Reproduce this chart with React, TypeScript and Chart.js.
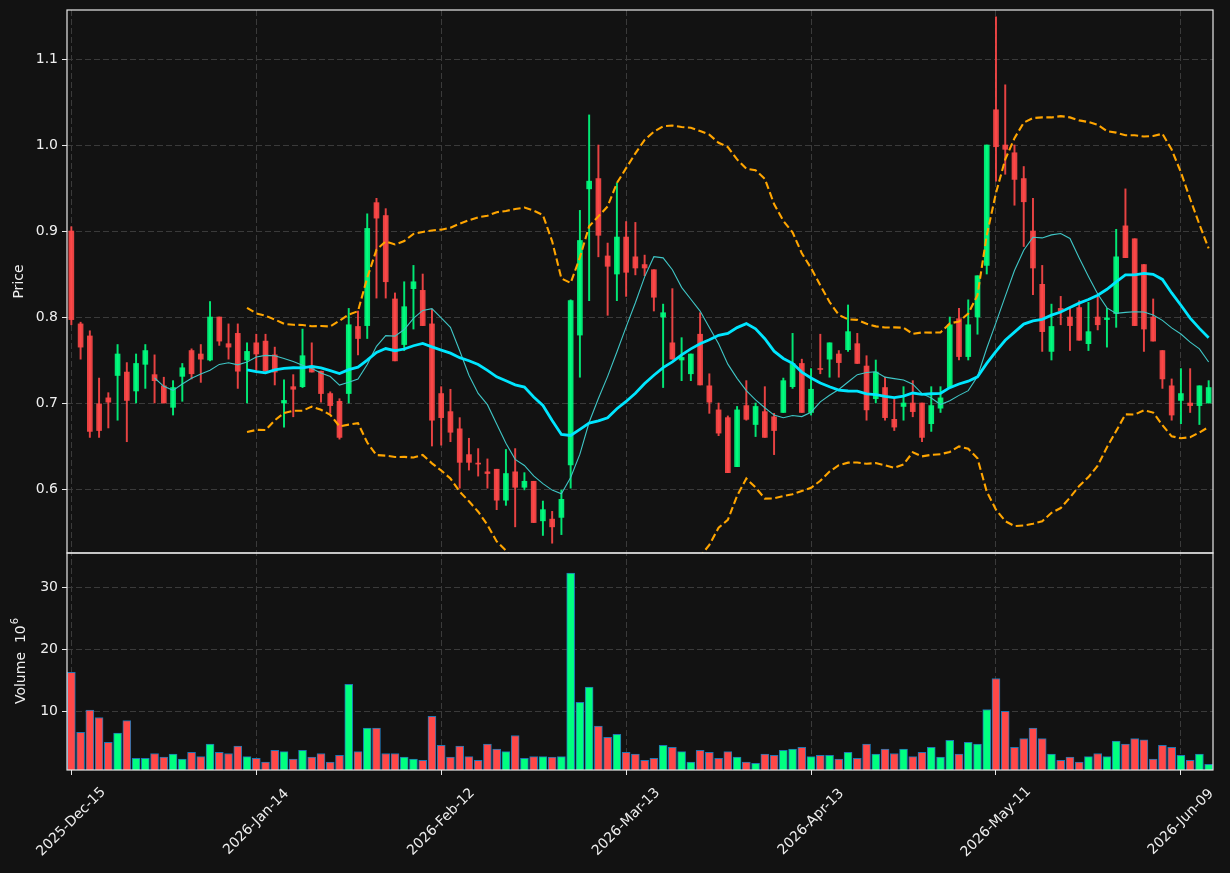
import React, { useEffect, useRef } from 'react';
import { Chart, registerables } from 'chart.js';

Chart.register(...registerables);

// ---- data (index = trading day) ----
const opens = [
  0.900, 0.792, 0.778, 0.699, 0.706, 0.732, 0.736, 0.714, 0.745, 0.733,
  0.720, 0.695, 0.731, 0.761, 0.757, 0.750, 0.800, 0.769, 0.781, 0.750,
  0.770, 0.772, 0.756, 0.700, 0.719, 0.719, 0.743, 0.737, 0.711, 0.702,
  0.711, 0.789, 0.790, 0.933, 0.918, 0.821, 0.768, 0.833, 0.831, 0.792,
  0.711, 0.690, 0.670, 0.640, 0.630, 0.620, 0.623, 0.587, 0.620, 0.602,
  0.609, 0.563, 0.565, 0.567, 0.628, 0.779, 0.949, 0.961, 0.871, 0.850,
  0.893, 0.870, 0.861, 0.855, 0.800, 0.770, 0.750, 0.734, 0.780, 0.720,
  0.692, 0.683, 0.626, 0.697, 0.675, 0.690, 0.684, 0.689, 0.719, 0.746,
  0.689, 0.740, 0.751, 0.757, 0.762, 0.769, 0.743, 0.705, 0.718, 0.681,
  0.696, 0.700, 0.700, 0.676, 0.694, 0.718, 0.798, 0.754, 0.800, 0.860,
  1.041, 1.000, 0.991, 0.961, 0.900, 0.838, 0.760, 0.810, 0.800, 0.811,
  0.769, 0.800, 0.797, 0.804, 0.906, 0.891, 0.861, 0.800, 0.761, 0.720,
  0.703, 0.700, 0.697, 0.700,
];
const highs = [
  0.905, 0.794, 0.784, 0.729, 0.712, 0.768, 0.747, 0.757, 0.768, 0.756,
  0.730, 0.726, 0.746, 0.763, 0.768, 0.818, 0.800, 0.792, 0.792, 0.770,
  0.780, 0.780, 0.765, 0.727, 0.733, 0.786, 0.770, 0.737, 0.713, 0.705,
  0.810, 0.807, 0.920, 0.938, 0.926, 0.828, 0.841, 0.860, 0.850, 0.809,
  0.719, 0.716, 0.683, 0.659, 0.647, 0.635, 0.623, 0.646, 0.647, 0.619,
  0.609, 0.586, 0.574, 0.599, 0.820, 0.924, 1.035, 1.000, 0.886, 0.956,
  0.911, 0.910, 0.872, 0.855, 0.815, 0.833, 0.776, 0.757, 0.805, 0.734,
  0.700, 0.685, 0.696, 0.726, 0.700, 0.719, 0.688, 0.729, 0.781, 0.751,
  0.740, 0.780, 0.770, 0.761, 0.814, 0.781, 0.755, 0.750, 0.730, 0.705,
  0.719, 0.726, 0.700, 0.719, 0.719, 0.800, 0.810, 0.820, 0.848, 1.000,
  1.149, 1.070, 1.000, 0.975, 0.938, 0.860, 0.815, 0.824, 0.810, 0.819,
  0.817, 0.824, 0.810, 0.902, 0.949, 0.891, 0.861, 0.821, 0.761, 0.728,
  0.740, 0.740, 0.720, 0.726,
];
const lows = [
  0.791, 0.751, 0.660, 0.660, 0.671, 0.680, 0.655, 0.700, 0.717, 0.700,
  0.700, 0.686, 0.702, 0.728, 0.724, 0.749, 0.767, 0.751, 0.717, 0.700,
  0.736, 0.737, 0.721, 0.672, 0.684, 0.718, 0.736, 0.701, 0.688, 0.658,
  0.700, 0.756, 0.775, 0.822, 0.822, 0.749, 0.761, 0.786, 0.790, 0.650,
  0.651, 0.655, 0.601, 0.622, 0.615, 0.601, 0.576, 0.581, 0.556, 0.599,
  0.561, 0.546, 0.537, 0.547, 0.601, 0.730, 0.819, 0.870, 0.802, 0.819,
  0.824, 0.849, 0.848, 0.807, 0.718, 0.751, 0.726, 0.726, 0.721, 0.688,
  0.662, 0.619, 0.626, 0.680, 0.661, 0.660, 0.640, 0.689, 0.717, 0.689,
  0.686, 0.734, 0.730, 0.730, 0.760, 0.746, 0.680, 0.700, 0.680, 0.668,
  0.680, 0.684, 0.655, 0.667, 0.689, 0.718, 0.750, 0.750, 0.780, 0.850,
  0.958, 0.966, 0.930, 0.882, 0.826, 0.760, 0.750, 0.791, 0.761, 0.773,
  0.761, 0.785, 0.765, 0.788, 0.869, 0.790, 0.760, 0.772, 0.717, 0.680,
  0.676, 0.689, 0.675, 0.700,
];
const closes = [
  0.797, 0.765, 0.667, 0.668, 0.701, 0.757, 0.703, 0.746, 0.761, 0.726,
  0.700, 0.718, 0.741, 0.734, 0.751, 0.800, 0.772, 0.765, 0.737, 0.760,
  0.757, 0.737, 0.736, 0.703, 0.716, 0.755, 0.736, 0.711, 0.697, 0.660,
  0.791, 0.775, 0.903, 0.915, 0.841, 0.749, 0.812, 0.841, 0.790, 0.680,
  0.683, 0.666, 0.631, 0.631, 0.629, 0.618, 0.587, 0.618, 0.602, 0.609,
  0.561, 0.576, 0.556, 0.588, 0.819, 0.889, 0.958, 0.895, 0.859, 0.893,
  0.852, 0.857, 0.857, 0.823, 0.805, 0.751, 0.753, 0.757, 0.721, 0.701,
  0.665, 0.619, 0.692, 0.681, 0.696, 0.660, 0.668, 0.726, 0.746, 0.689,
  0.716, 0.739, 0.770, 0.747, 0.783, 0.746, 0.692, 0.736, 0.683, 0.672,
  0.700, 0.690, 0.660, 0.697, 0.706, 0.791, 0.754, 0.791, 0.848, 1.000,
  0.998, 0.995, 0.960, 0.934, 0.857, 0.783, 0.789, 0.807, 0.790, 0.773,
  0.783, 0.791, 0.799, 0.870, 0.869, 0.790, 0.786, 0.772, 0.728, 0.686,
  0.711, 0.697, 0.720, 0.718,
];
// volume in millions
const volumes = [
  16.3, 6.6, 10.2, 9.0, 5.0, 6.5, 8.5, 2.4, 2.4, 3.2,
  2.6, 3.1, 2.3, 3.4, 2.7, 4.7, 3.4, 3.2, 4.4, 2.7,
  2.4, 1.8, 3.7, 3.5, 2.3, 3.7, 2.6, 3.2, 1.8, 2.9,
  14.35, 3.5, 7.3, 7.3, 3.2, 3.2, 2.6, 2.3, 2.1, 9.2,
  4.5, 2.6, 4.4, 2.7, 2.1, 4.7, 3.9, 3.5, 6.1, 2.4,
  2.7, 2.7, 2.6, 2.7, 32.3, 11.45, 13.9, 7.6, 5.8, 6.3,
  3.4, 3.1, 2.1, 2.4, 4.5, 4.2, 3.5, 1.8, 3.7, 3.4,
  2.4, 3.5, 2.6, 1.8, 1.6, 3.1, 2.9, 3.7, 3.9, 4.2,
  2.7, 2.9, 2.9, 2.3, 3.4, 2.4, 4.7, 3.1, 3.9, 3.2,
  3.9, 2.7, 3.4, 4.2, 2.6, 5.3, 3.1, 5.0, 4.7, 10.3,
  15.3, 10.0, 4.2, 5.6, 7.3, 5.6, 3.1, 2.1, 2.6, 1.8,
  2.7, 3.2, 2.7, 5.2, 4.7, 5.6, 5.4, 2.3, 4.5, 4.2,
  2.9, 2.1, 3.1, 1.45,
];
const xTickIdx = [0, 20, 40, 60, 80, 100, 120];
const xTickLabels = ['2025-Dec-15', '2026-Jan-14', '2026-Feb-12', '2026-Mar-13', '2026-Apr-13', '2026-May-11', '2026-Jun-09'];
const priceTicks = [0.6, 0.7, 0.8, 0.9, 1.0, 1.1];
const volTicks = [10, 20, 30];
const maShort = 10;
const maLong = 20;

// ---- styles ----
const BG = '#121212';
const UP = '0,255,128';
const DOWN = '255,72,72';
const FONT = "'DejaVu Sans', sans-serif";
const TXT = '#efefef';

// moving averages / bands derived from the closes (as the indicator lines do)
function rolling(vals: number[], n: number) {
  const out: { x: number; mean: number; std: number }[] = [];
  for (let i = n - 1; i < vals.length; i++) {
    const w = vals.slice(i - n + 1, i + 1);
    const m = w.reduce((a, b) => a + b, 0) / n;
    const v = w.reduce((a, b) => a + (b - m) * (b - m), 0) / n;
    out.push({ x: i, mean: m, std: Math.sqrt(v) });
  }
  return out;
}

export default function App() {
  const ref = useRef<HTMLCanvasElement>(null);
  useEffect(() => {
    const canvas = ref.current!;
    const isUp = closes.map((c, i) => c >= opens[i]);
    const short = rolling(closes, maShort);
    const long = rolling(closes, maLong);

    const deco = {
      id: 'deco',
      beforeDraw(chart: any) {
        const { ctx, width, height } = chart;
        ctx.save();
        ctx.fillStyle = BG;
        ctx.fillRect(0, 0, width, height);
        ctx.restore();
      },
      beforeDatasetDraw(chart: any, args: any) {
        const { xScale, yScale } = args.meta;
        const ctx = chart.ctx;
        ctx.save();
        ctx.beginPath();
        ctx.rect(xScale.left, yScale.top, xScale.right - xScale.left, yScale.bottom - yScale.top);
        ctx.clip();
      },
      afterDatasetDraw(chart: any) {
        chart.ctx.restore();
      },
      afterDraw(chart: any) {
        const ctx = chart.ctx;
        const xs = chart.scales.x;
        const yp = chart.scales.y;
        const yv = chart.scales.yv;
        ctx.save();
        ctx.strokeStyle = '#e8e8e8';
        ctx.lineWidth = 1.2;
        ctx.strokeRect(xs.left, yp.top, xs.right - xs.left, yp.bottom - yp.top);
        ctx.strokeRect(xs.left, yv.top, xs.right - xs.left, yv.bottom - yv.top);
        ctx.fillStyle = TXT;
        ctx.font = `14px ${FONT}`;
        ctx.textAlign = 'center';
        ctx.textBaseline = 'middle';
        xTickIdx.forEach((v, k) => {
          const px = xs.getPixelForValue(v);
          ctx.save();
          ctx.translate(px, xs.top + 52);
          ctx.rotate(-Math.PI / 4);
          ctx.fillText(xTickLabels[k], 0, 0);
          ctx.restore();
        });
        // y titles
        ctx.save();
        ctx.translate(19, (yp.top + yp.bottom) / 2);
        ctx.rotate(-Math.PI / 2);
        ctx.fillText('Price', 0, 0);
        ctx.restore();
        ctx.save();
        ctx.translate(21, (yv.top + yv.bottom) / 2);
        ctx.rotate(-Math.PI / 2);
        const main = 'Volume  10';
        ctx.font = `14px ${FONT}`;
        const w1 = ctx.measureText(main).width;
        ctx.font = `10px ${FONT}`;
        const w2 = ctx.measureText('6').width;
        const start = -(w1 + w2) / 2;
        ctx.textAlign = 'left';
        ctx.font = `14px ${FONT}`;
        ctx.fillText(main, start, 0);
        ctx.font = `10px ${FONT}`;
        ctx.fillText('6', start + w1 + 1, -6);
        ctx.restore();
        ctx.restore();
      },
    };

    const gridCommon = {
      color: '#3a3a3a',
      lineWidth: 1,
      drawTicks: true,
      tickLength: 5,
      tickColor: '#e8e8e8',
      tickWidth: 1,
    };

    const fitY = (s: any) => {
      s.width = 67;
      s.paddingTop = 0;
      s.paddingBottom = 0;
    };

    const chart = new Chart(canvas, {
      type: 'bar',
      data: {
        datasets: [
          {
            type: 'line',
            label: 'MA20',
            data: long.map((p) => ({ x: p.x, y: p.mean })),
            borderColor: '#00e6ff',
            borderWidth: 2.8,
            pointRadius: 0,
            tension: 0,
            yAxisID: 'y',
            order: 0,
          } as any,
          {
            type: 'line',
            label: 'MA10',
            data: short.map((p) => ({ x: p.x, y: p.mean })),
            borderColor: '#3fc6c6',
            borderWidth: 1.1,
            pointRadius: 0,
            tension: 0,
            yAxisID: 'y',
            order: 1,
          } as any,
          {
            type: 'line',
            label: 'Upper',
            data: long.map((p) => ({ x: p.x, y: p.mean + 2 * p.std })),
            borderColor: '#ffa500',
            borderWidth: 2.1,
            borderDash: [7.5, 3.5],
            pointRadius: 0,
            tension: 0,
            yAxisID: 'y',
            order: 2,
          } as any,
          {
            type: 'line',
            label: 'Lower',
            data: long.map((p) => ({ x: p.x, y: p.mean - 2 * p.std })),
            borderColor: '#ffa500',
            borderWidth: 2.1,
            borderDash: [7.5, 3.5],
            pointRadius: 0,
            tension: 0,
            yAxisID: 'y',
            order: 3,
          } as any,
          {
            label: 'Body',
            data: closes.map((c, i) => ({ x: i, y: [opens[i], c] })) as any,
            backgroundColor: isUp.map((u) => `rgba(${u ? UP : DOWN},0.9)`),
            barThickness: 5,
            minBarLength: 1,
            grouped: false,
            yAxisID: 'y',
            order: 4,
          } as any,
          {
            label: 'Wick',
            data: lows.map((l, i) => ({ x: i, y: [l, highs[i]] })) as any,
            backgroundColor: isUp.map((u) => `rgba(${u ? UP : DOWN},0.9)`),
            barThickness: 1.3,
            grouped: false,
            yAxisID: 'y',
            order: 5,
          } as any,
          {
            label: 'Volume',
            data: volumes.map((v, i) => ({ x: i, y: v })),
            backgroundColor: isUp.map((u) => `rgb(${u ? UP : DOWN})`),
            borderColor: '#1f77b4',
            borderWidth: 1,
            borderSkipped: false,
            barThickness: 8,
            grouped: false,
            yAxisID: 'yv',
            order: 6,
          } as any,
        ],
      },
      options: {
        animation: false,
        responsive: false,
        devicePixelRatio: 1,
        events: [],
        layout: { padding: { top: 10, right: 17, left: 0, bottom: 0 } },
        plugins: { legend: { display: false }, tooltip: { enabled: false } },
        scales: {
          x: {
            type: 'linear',
            min: -0.47,
            max: 123.47,
            offset: false,
            grid: { ...gridCommon, offset: false },
            border: { display: false, dash: [6, 3] },
            ticks: { display: false },
            afterBuildTicks: (s: any) => {
              s.ticks = xTickIdx.map((v) => ({ value: v }));
            },
            afterFit: (s: any) => {
              s.height = 103;
              s.paddingLeft = 0;
              s.paddingRight = 0;
            },
          },
          yv: {
            type: 'linear',
            position: 'left',
            stack: 'panels',
            stackWeight: 217,
            min: 0.53,
            max: 35.55,
            grid: gridCommon,
            border: { display: false, dash: [6, 3] },
            ticks: {
              color: TXT,
              font: { family: FONT, size: 14 },
              padding: 4,
              callback: (v: any) => String(Math.round(Number(v))),
            },
            afterBuildTicks: (s: any) => {
              s.ticks = volTicks.map((v) => ({ value: v }));
            },
            afterFit: fitY,
          },
          y: {
            type: 'linear',
            position: 'left',
            stack: 'panels',
            stackWeight: 543,
            min: 0.5256,
            max: 1.157,
            grid: gridCommon,
            border: { display: false, dash: [6, 3] },
            ticks: {
              color: TXT,
              font: { family: FONT, size: 14 },
              padding: 4,
              callback: (v: any) => Number(v).toFixed(1),
            },
            afterBuildTicks: (s: any) => {
              s.ticks = priceTicks.map((v) => ({ value: v }));
            },
            afterFit: fitY,
          },
        } as any,
      },
      plugins: [deco],
    });
    return () => chart.destroy();
  }, []);

  return (
    <div style={{ position: 'fixed', left: 0, top: 0, width: 1230, height: 873, background: BG }}>
      <canvas ref={ref} width={1230} height={873} style={{ display: 'block', width: 1230, height: 873 }} />
    </div>
  );
}
